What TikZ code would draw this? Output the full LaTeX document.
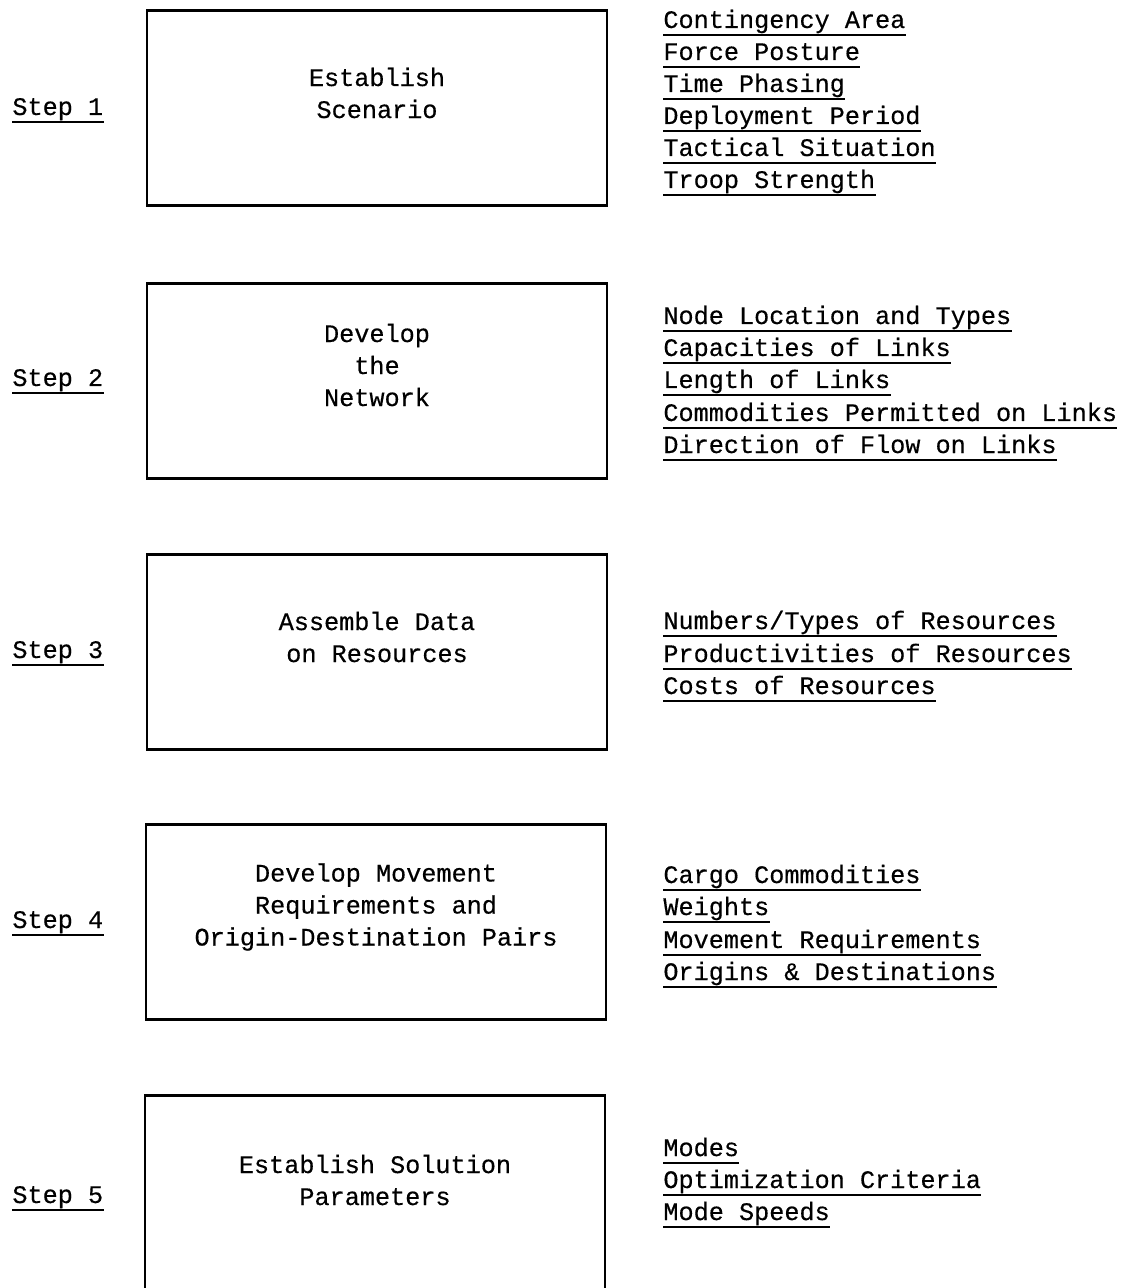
\documentclass[tikz,border=0pt]{standalone}
\usepackage{fontspec}
\setmonofont{Liberation Mono}
\usepackage{tikz}

\newcommand{\typefont}{\ttfamily\fontsize{12.6}{16}\selectfont\addfontfeature{FakeBold=0.4}}

\begin{document}
\begin{tikzpicture}[x=0.5pt, y=-0.5pt, font=\typefont,
  stepbox/.style={draw, line width=1.3pt, rectangle, minimum width=230pt, minimum height=97.5pt, inner sep=0pt},
  boxtext/.style={align=center, inner sep=0pt},
  uline/.style={draw, line width=1.2pt},
  item/.style={anchor=base west, inner sep=0pt,
    append after command={([yshift=-3.5pt]\tikzlastnode.base west) edge[uline] ([yshift=-3.5pt]\tikzlastnode.base east)}}]
  \useasboundingbox (0,0) rectangle (1129,1288);

  % Boxes
  \node (scen) [stepbox] at (377, 108) {};
  \node (netw) [stepbox] at (377, 381) {};
  \node (reso) [stepbox] at (377, 652) {};
  \node (move) [stepbox] at (376, 922) {};
  \node (solu) [stepbox] at (375, 1193) {};

  \node (scentext) [boxtext] at ([yshift=7.5pt]scen.center) {Establish\\Scenario};
  \node (netwtext) [boxtext] at ([yshift=8pt]netw.center) {Develop\\the\\Network};
  \node (resotext) [boxtext] at ([yshift=7.5pt]reso.center) {Assemble Data\\on Resources};
  \node (movetext) [boxtext] at ([yshift=7.5pt]move.center) {Develop Movement\\Requirements and\\Origin-Destination Pairs};
  \node (solutext) [boxtext] at ([yshift=6.5pt]solu.center) {Establish Solution\\Parameters};

  % Step labels
  \node (step1) [item] at (12, 115) {Step 1};
  \node (step2) [item] at (12, 386) {Step 2};
  \node (step3) [item] at (12, 658) {Step 3};
  \node (step4) [item] at (12, 928) {Step 4};
  \node (step5) [item] at (12, 1203) {Step 5};

  % Step 1 inputs
  \node (area) [item] at (663, 28) {Contingency Area};
  \node (posture) [item] at (663, 60) {Force Posture};
  \node (phasing) [item] at (663, 92) {Time Phasing};
  \node (period) [item] at (663, 124) {Deployment Period};
  \node (tactical) [item] at (663, 156) {Tactical Situation};
  \node (troop) [item] at (663, 188) {Troop Strength};

  % Step 2 inputs
  \node (nodeloc) [item] at (663, 324) {Node Location and Types};
  \node (capac) [item] at (663, 356) {Capacities of Links};
  \node (length) [item] at (663, 388) {Length of Links};
  \node (permit) [item] at (663, 421) {Commodities Permitted on Links};
  \node (flow) [item] at (663, 453) {Direction of Flow on Links};

  % Step 3 inputs
  \node (numbers) [item] at (663, 629) {Numbers/Types of Resources};
  \node (product) [item] at (663, 662) {Productivities of Resources};
  \node (costs) [item] at (663, 694) {Costs of Resources};

  % Step 4 inputs
  \node (cargo) [item] at (663, 883) {Cargo Commodities};
  \node (weights) [item] at (663, 915) {Weights};
  \node (moves) [item] at (663, 948) {Movement Requirements};
  \node (origins) [item] at (663, 980) {Origins \& Destinations};

  % Step 5 inputs
  \node (modes) [item] at (663, 1156) {Modes};
  \node (criteria) [item] at (663, 1188) {Optimization Criteria};
  \node (speeds) [item] at (663, 1220) {Mode Speeds};
\end{tikzpicture}
\end{document}
